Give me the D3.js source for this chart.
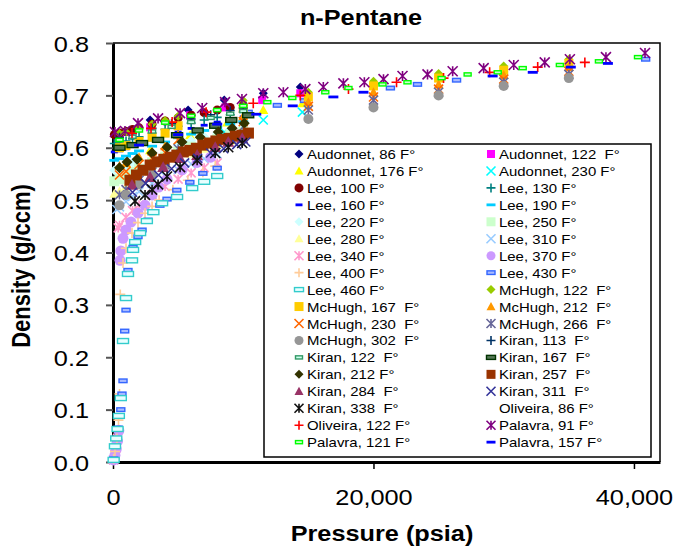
<!DOCTYPE html>
<html>
<head>
<meta charset="utf-8">
<script src="https://cdn.jsdelivr.net/npm/d3@7"></script>
<style>
  body { margin: 0; background: #fff; }
  text { font-family: "Liberation Sans", Arial, sans-serif; fill: #000; }
</style>
</head>
<body>
<svg id="chart" width="673" height="548"></svg>
<script>
// ---- data: [pressure psia, density g/ccm] ----
const audonnet86  = [[1000,0.632],[2850,0.653],[5770,0.672],[8540,0.691],[11540,0.704],[14380,0.716]];
const audonnet122 = [[540,0.624],[2850,0.639],[5920,0.662],[8620,0.677],[11460,0.691],[14380,0.704]];
const audonnet176 = [[2850,0.595],[5920,0.624],[8770,0.648],[11540,0.672],[14540,0.685]];
const audonnet230 = [[2850,0.567],[5770,0.605],[8540,0.630],[11540,0.653],[14540,0.668]];

const leeP   = [100,500,1000,1500,2000,3000,4000,5000,6000,7000,8000,9000,10000];
const lee100 = [0.625,0.628,0.631,0.635,0.638,0.645,0.651,0.657,0.662,0.667,0.672,0.677,0.681];
const lee130 = [0.608,0.610,0.613,0.617,0.621,0.628,0.635,0.641,0.647,0.653,0.658,0.663,0.668];
const lee160 = [0.592,0.594,0.598,0.603,0.607,0.615,0.623,0.630,0.637,0.643,0.649,0.654,0.659];
const lee190 = [0.576,0.579,0.584,0.589,0.594,0.603,0.611,0.619,0.626,0.633,0.639,0.645,0.650];
const lee220 = [0.557,0.560,0.566,0.572,0.577,0.587,0.597,0.606,0.614,0.621,0.628,0.634,0.640];
const lee250 = [0.536,0.540,0.547,0.554,0.560,0.572,0.583,0.593,0.602,0.610,0.617,0.624,0.630];
const lee280 = [0.512,0.517,0.526,0.534,0.541,0.555,0.568,0.579,0.589,0.598,0.606,0.614,0.621];
const lee310 = [[50,0.004],[150,0.015],[250,0.030],[300,0.482],[500,0.487],[1000,0.497],[1500,0.507],[2000,0.516],[3000,0.532],[4000,0.546],[5000,0.558],[6000,0.569],[7000,0.579],[8000,0.588]];
const lee340 = [[50,0.004],[150,0.014],[250,0.027],[350,0.045],[400,0.447],[500,0.452],[1000,0.467],[1500,0.480],[2000,0.491],[3000,0.510],[4000,0.526],[5000,0.540],[6000,0.552],[7000,0.562],[8000,0.571]];
const lee370 = [[50,0.004],[150,0.013],[250,0.025],[350,0.040],[450,0.060],[540,0.385],[600,0.403],[770,0.427],[1000,0.443],[1380,0.458],[1920,0.475],[2460,0.490],[3000,0.510],[3500,0.525],[4150,0.540],[5300,0.558],[6460,0.572],[7500,0.582]];
const lee400 = [[50,0.006],[150,0.020],[300,0.045],[420,0.080],[500,0.130],[560,0.320],[770,0.380],[1000,0.408],[1460,0.437],[1920,0.457],[2460,0.475],[3000,0.488],[3540,0.500],[4600,0.520],[5750,0.538],[6900,0.553],[7850,0.565]];
const lee430 = [[50,0.006],[200,0.030],[400,0.065],[600,0.100],[690,0.130],[770,0.155],[900,0.250],[1000,0.290],[1150,0.366],[1540,0.410],[1920,0.430],[2230,0.443],[2690,0.462],[3100,0.477],[3600,0.490],[4150,0.502],[4900,0.519],[5900,0.534],[6900,0.551],[8000,0.561],
                [10380,0.668],[12620,0.681],[14700,0.690],[21300,0.714],[23380,0.721],[26380,0.729],[40900,0.769]];
const lee460 = [[50,0.004],[150,0.030],[250,0.045],[350,0.063],[450,0.088],[600,0.122],[770,0.231],[1000,0.313],[1150,0.359],[1460,0.385],[1540,0.405],[1700,0.420],[2080,0.437],[2600,0.460],[3100,0.477],[3770,0.494],[4920,0.506],[6080,0.523],[7000,0.535],[8000,0.546]];

const mchughP   = [500,1000,2000,3000,4000,5000,10000,15000,20000,25000,30000,35000];
const mchugh122 = [0.627,0.630,0.637,0.645,0.652,0.660,0.690,0.706,0.727,0.742,0.756,0.769];
const mchugh167 = [0.600,0.604,0.612,0.620,0.628,0.642,0.675,0.697,0.718,0.733,0.748,0.761];
const mchugh212 = [0.565,0.571,0.582,0.593,0.603,0.625,0.660,0.687,0.706,0.721,0.739,0.754];
const mchugh230 = [0.548,0.555,0.568,0.580,0.591,0.615,0.650,0.679,0.697,0.712,0.731,0.746];
const mchugh266 = [0.510,0.520,0.538,0.554,0.567,0.598,0.640,0.672,0.691,0.706,0.725,0.740];
const mchugh302 = [0.490,0.510,0.530,0.550,0.568,0.585,0.625,0.655,0.677,0.700,0.718,0.733];

const kiran113 = [[500,0.620],[1500,0.627],[3000,0.637],[4500,0.646],[6000,0.655],[7500,0.663],[9000,0.671],[10000,0.676]];
const kiran122 = [[500,0.614],[1500,0.621],[3000,0.631],[4500,0.640],[6000,0.649],[7500,0.657],[9000,0.665],[10000,0.670]];
const kiran167 = [[500,0.600],[1500,0.605],[2230,0.609],[3460,0.615],[4920,0.624],[6500,0.633],[7850,0.642],[9080,0.653],[10380,0.662]];
const kiran212 = [[500,0.562],[1080,0.573],[1850,0.578],[3000,0.590],[4150,0.601],[5300,0.611],[6700,0.620],[8080,0.630],[9150,0.637],[10080,0.647]];
const kiran257 = [[1300,0.538],[1800,0.548],[2300,0.557],[2850,0.567],[3400,0.573],[3900,0.578],[4400,0.582],[4900,0.586],[5400,0.592],[5900,0.595],[6400,0.599],[6900,0.605],[7400,0.609],[7900,0.613],[8400,0.616],[8900,0.618],[9400,0.622],[9900,0.624],[10400,0.628]];
const kiran284 = [[1460,0.529],[2850,0.544],[3850,0.563],[5150,0.580],[6460,0.586],[7850,0.601],[8850,0.611],[9920,0.618]];
const kiran311 = [[1500,0.515],[2500,0.532],[3500,0.548],[4500,0.560],[5500,0.571],[6500,0.580],[7500,0.590],[8500,0.598],[9500,0.606],[10200,0.611]];
const kiran338 = [[1690,0.498],[2460,0.510],[3000,0.520],[3460,0.530],[4150,0.545],[5150,0.563],[6460,0.576],[7850,0.590],[8850,0.601],[9920,0.609]];

const oliveira86  = [];
const oliveira122 = [[1460,0.628],[2920,0.637],[4540,0.649],[7150,0.668],[10770,0.685],[14380,0.700],[18080,0.712],[21770,0.725],[25380,0.733],[28920,0.744],[32610,0.754],[36230,0.763]];

const palavra91  = [[150,0.630],[920,0.632],[1920,0.647],[3460,0.656],[5150,0.666],[6850,0.676],[8600,0.687],[9900,0.693],[11540,0.704],[13080,0.706],[14770,0.712],[16150,0.716],[17690,0.723],[19300,0.725],[20770,0.731],[22230,0.737],[24150,0.740],[26080,0.746],[28460,0.752],[30770,0.758],[33150,0.763],[35080,0.769],[37850,0.773],[40850,0.781]];
const palavra121 = [[500,0.615],[2000,0.633],[4000,0.648],[6000,0.661],[8000,0.672],[10000,0.680],[11850,0.687],[13770,0.695],[16300,0.706],[18080,0.714],[20690,0.721],[22610,0.725],[25230,0.733],[27230,0.740],[29540,0.744],[31460,0.752],[34310,0.758],[37310,0.765],[40310,0.773]];
const palavra157 = [[2000,0.605],[5000,0.625],[8000,0.645],[11000,0.664],[13800,0.680],[16920,0.697],[19230,0.706],[29150,0.737],[32230,0.744],[35150,0.754],[38000,0.761]];

const yTicks = [0, 0.1, 0.2, 0.3, 0.4, 0.5, 0.6, 0.7, 0.8];
const xTicks = [0, 20000, 40000];

const zipP = (ps, ds) => ps.map((p, i) => [p, ds[i]]);

// name, points, colour, marker, size, inner fill
const series = [
  ["Audonnet, 86 F°",   audonnet86,  "#000080", "diamond", 4.5],
  ["Audonnet, 122  F°", audonnet122, "#FF00FF", "square", 4],
  ["Audonnet, 176 F°",  audonnet176, "#FFFF00", "triangle", 5],
  ["Audonnet, 230 F°",  audonnet230, "#00FFFF", "x", 4.5],
  ["Lee, 100 F°", zipP(leeP, lee100), "#800000", "circle", 4.5],
  ["Lee, 130 F°", zipP(leeP, lee130), "#008080", "plus", 4.5],
  ["Lee, 160 F°", zipP(leeP, lee160), "#0000FF", "dash", 3.5],
  ["Lee, 190 F°", zipP(leeP, lee190), "#00CCFF", "dash", 5],
  ["Lee, 220 F°", zipP(leeP, lee220), "#CCFFFF", "diamond", 5],
  ["Lee, 250 F°", zipP(leeP, lee250), "#CCFFCC", "square", 5],
  ["Lee, 280 F°", zipP(leeP, lee280), "#FFFF99", "triangle", 5],
  ["Lee, 310 F°", lee310, "#99CCFF", "x", 4.5],
  ["Lee, 340 F°", lee340, "#FF99CC", "star", 4.5],
  ["Lee, 370 F°", lee370, "#CC99FF", "circle", 5.5],
  ["Lee, 400 F°", lee400, "#FFCC99", "plus", 5],
  ["Lee, 430 F°", lee430, "#3366FF", "hrect", 4, "#aabbff"],
  ["Lee, 460 F°", lee460, "#33CCCC", "hrect", 5.5, "#e8ffff"],
  ["McHugh, 122  F°", zipP(mchughP, mchugh122), "#99CC00", "diamond", 4.5],
  ["McHugh, 167  F°", zipP(mchughP, mchugh167), "#FFCC00", "square", 4.5],
  ["McHugh, 212  F°", zipP(mchughP, mchugh212), "#FF9900", "triangle", 5],
  ["McHugh, 230  F°", zipP(mchughP, mchugh230), "#FF6600", "x", 4.5],
  ["McHugh, 266  F°", zipP(mchughP, mchugh266), "#666699", "star", 4.5],
  ["McHugh, 302  F°", zipP(mchughP, mchugh302), "#969696", "circle", 5],
  ["Kiran, 113  F°", kiran113, "#003366", "plus", 4.5],
  ["Kiran, 122  F°", kiran122, "#339966", "hrect", 3.5, "#ccffee"],
  ["Kiran, 167  F°", kiran167, "#003300", "hrect", 5.5, "#557755"],
  ["Kiran, 212 F°",  kiran212, "#333300", "diamond", 5.5],
  ["Kiran, 257  F°", kiran257, "#993300", "square", 5.5],
  ["Kiran, 284  F°", kiran284, "#993366", "triangle", 6],
  ["Kiran, 311  F°", kiran311, "#333399", "x", 4.5],
  ["Kiran, 338  F°", kiran338, "#111111", "star", 5],
  ["Oliveira, 86 F°",  oliveira86,  "#000000", "none", 0],
  ["Oliveira, 122 F°", oliveira122, "#FF0000", "plus", 5],
  ["Palavra, 91 F°",   palavra91,   "#800080", "star", 5],
  ["Palavra, 121 F°",  palavra121,  "#00FF00", "hrect", 3.5, "#ccffcc"],
  ["Palavra, 157 F°",  palavra157,  "#0000FF", "dash", 5]
];

const SX = 1.15;   // the picture is a little wider than tall text would be

const svg = d3.select("#chart");
const x = d3.scaleLinear().domain([0, 42000]).range([113, 660]);
const y = d3.scaleLinear().domain([0, 0.8]).range([462, 43]);

function marker(g, shape, color, s, inner) {
  if (shape === "diamond") {
    g.append("path").attr("d", `M0,${-s}L${s},0L0,${s}L${-s},0Z`).attr("fill", color);
  } else if (shape === "square") {
    g.append("rect").attr("x", -s).attr("y", -s).attr("width", 2 * s).attr("height", 2 * s).attr("fill", color);
  } else if (shape === "triangle") {
    g.append("path").attr("d", `M0,${-s}L${s},${s * 0.8}L${-s},${s * 0.8}Z`).attr("fill", color);
  } else if (shape === "circle") {
    g.append("circle").attr("r", s).attr("fill", color);
  } else if (shape === "x") {
    g.append("path").attr("d", `M${-s},${-s}L${s},${s}M${-s},${s}L${s},${-s}`)
      .attr("stroke", color).attr("stroke-width", 1.6).attr("fill", "none");
  } else if (shape === "plus") {
    g.append("path").attr("d", `M${-s},0H${s}M0,${-s}V${s}`)
      .attr("stroke", color).attr("stroke-width", 1.6).attr("fill", "none");
  } else if (shape === "star") {
    g.append("path").attr("d", `M${-s},${-s}L${s},${s}M${-s},${s}L${s},${-s}M0,${-s}V${s}`)
      .attr("stroke", color).attr("stroke-width", 1.6).attr("fill", "none");
  } else if (shape === "dash") {
    g.append("rect").attr("x", -s).attr("y", -1.4).attr("width", 2 * s).attr("height", 2.8).attr("fill", color);
  } else if (shape === "hrect") {
    g.append("rect").attr("x", -s).attr("y", -s * 0.45).attr("width", 2 * s).attr("height", s * 0.9)
      .attr("fill", inner).attr("stroke", color).attr("stroke-width", 1.4);
  }
}

function txt(sel, tx, ty, str) {
  return sel.append("text").attr("transform", `translate(${tx},${ty}) scale(${SX},1)`)
    .style("white-space", "pre").text(str);
}

// plot frame (top + right)
svg.append("path").attr("d", `M113,43H660V462`).attr("fill", "none").attr("stroke", "#000").attr("stroke-width", 1.5);

// axes
const yAxis = svg.append("g").attr("transform", "translate(113,0)")
  .call(d3.axisLeft(y).tickValues(yTicks).tickSize(7).tickSizeOuter(0).tickFormat(d3.format(".1f")));
yAxis.select(".domain").attr("stroke", "#000").attr("stroke-width", 3);
yAxis.selectAll(".tick line").attr("stroke", "#555").attr("stroke-width", 2);
yAxis.selectAll(".tick text").attr("x", null).attr("dy", null)
  .attr("transform", `translate(-24,8) scale(${SX},1)`)
  .style("font-size", "22px").attr("fill", "#000");

const xAxis = svg.append("g").attr("transform", "translate(0,462)")
  .call(d3.axisBottom(x).tickValues(xTicks).tickSize(7).tickSizeOuter(0).tickFormat(d3.format(",")));
xAxis.select(".domain").attr("stroke", "#000").attr("stroke-width", 3);
xAxis.selectAll(".tick line").attr("stroke", "#000").attr("stroke-width", 1.5);
xAxis.selectAll(".tick text").attr("y", null).attr("dy", null)
  .attr("transform", `translate(0,43) scale(${SX},1)`)
  .style("font-size", "22px").attr("fill", "#000");

// points
series.forEach(([name, pts, color, shape, size, inner]) => {
  const g = svg.append("g");
  pts.forEach(([p, d]) => {
    const m = g.append("g").attr("transform", `translate(${x(p)},${y(d)})`);
    marker(m, shape, color, size, inner);
  });
});

// titles
txt(svg, 361, 25, "n-Pentane").attr("text-anchor", "middle").style("font-size", "22px").style("font-weight", "bold");
txt(svg, 382, 541, "Pressure (psia)").attr("text-anchor", "middle").style("font-size", "22px").style("font-weight", "bold");
svg.append("text").attr("transform", `translate(30,266) rotate(-90) scale(1,${SX})`)
  .attr("text-anchor", "middle").style("font-size", "22px").style("font-weight", "bold").text("Density (g/ccm)");

// legend
const leg = svg.append("g");
leg.append("rect").attr("x", 264).attr("y", 144).attr("width", 387).attr("height", 313)
  .attr("fill", "#fff").attr("stroke", "#000").attr("stroke-width", 1.5);
series.forEach(([name, pts, color, shape, size, inner], i) => {
  const row = Math.floor(i / 2), col = i % 2;
  const cy = 154 + row * 16.95;
  const mx = col === 0 ? 299 : 491;
  const m = leg.append("g").attr("transform", `translate(${mx},${cy})`);
  marker(m, shape, color, Math.min(size, 4.5), inner);
  txt(leg, mx + 8, cy + 5, name).style("font-size", "13px");
});
</script>
</body>
</html>
